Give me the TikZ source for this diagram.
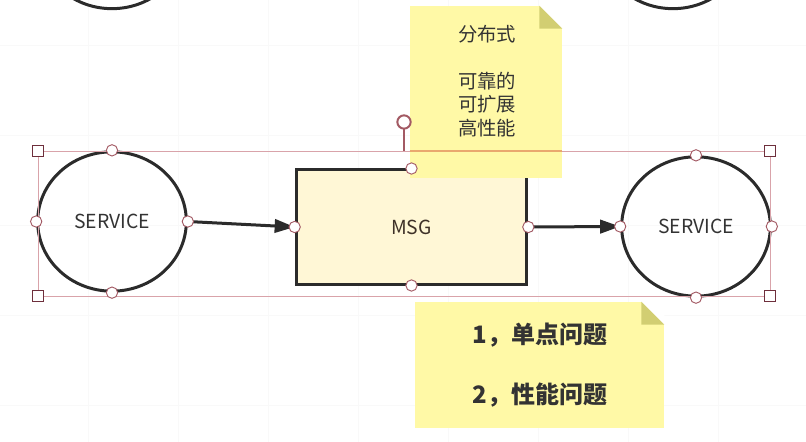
\documentclass[tikz,border=0pt]{standalone}
\usepackage{fontspec}
\setmainfont{Noto Sans CJK SC}
\usepackage{tikz}
\usetikzlibrary{shapes.geometric,arrows.meta}
\definecolor{ink}{HTML}{2B2B2B}
\definecolor{txt}{HTML}{333333}
\definecolor{msgtxt}{HTML}{3E3128}
\definecolor{note}{HTML}{FFF9A6}
\definecolor{fold}{HTML}{D2CE72}
\definecolor{msgfill}{HTML}{FFF7D6}
\definecolor{sel}{HTML}{D9A3AA}
\definecolor{selnote}{HTML}{E9A86E}
\definecolor{knob}{HTML}{A35A64}
\definecolor{corner}{HTML}{6E2F3C}
\definecolor{grid}{HTML}{F9F9F9}
\tikzset{
  svc/.style={ellipse, draw=ink, line width=2.25pt, minimum width=111.5pt, minimum height=104.5pt, inner sep=0pt, text=txt, font=\fontsize{14.5}{16}\selectfont},
  msgbox/.style={rectangle, draw=ink, fill=msgfill, line width=2.25pt, minimum width=173pt, minimum height=85.5pt, text=msgtxt, font=\fontsize{14.5}{16}\selectfont},
  sticky/.style={rectangle, fill=note, inner sep=0pt},
  notetxt/.style={text=txt, align=left, inner sep=0pt},
  flow/.style={draw=ink, line width=2.25pt, -{Triangle[length=15pt,width=10pt]}},
  knobc/.style={circle, draw=knob, fill=white, line width=0.7pt, inner sep=0pt, minimum size=8.5pt},
  cornerbox/.style={rectangle, draw=corner, fill=white, line width=0.7pt, inner sep=0pt, minimum size=8.5pt},
  selbox/.style={draw=sel, line width=0.7pt},
}
\begin{document}
\begin{tikzpicture}[x=0.75pt, y=-0.75pt]
  \useasboundingbox (0,0) rectangle (806,442);
  \clip (0,0) rectangle (806,442);
  % faint page grid
  \foreach \gx in {88,178,...,808} \draw[grid, line width=0.4pt] (\gx,0) -- (\gx,442);
  \foreach \gy in {45,135,...,405} \draw[grid, line width=0.4pt] (0,\gy) -- (806,\gy);

  % shapes cut by the top edge
  \node[svc] (topL) at (112,-61) {};
  \node[svc] (topR) at (673,-61) {};

  \node[svc] (svcL) at (112,221.5) {SERVICE};
  \node[svc] (svcR) at (696,226.5) {SERVICE};
  \node[msgbox] (msg) at (411.5,227) {MSG};

  \draw[flow] (svcL.east) -- (msg.west);
  \draw[flow] (msg.east) -- (svcR.west);

  % sticky notes
  \node[sticky, minimum width=114pt, minimum height=129pt] (noteA) at (486,92) {};
  \fill[white] (noteA.north east) -- ++(-23,0) -- ++(23,23) -- cycle;
  \fill[fold] (noteA.north east) ++(-23,0) -- ++(0,23) -- ++(23,0) -- cycle;
  \node[notetxt, font=\fontsize{14.5}{17.6}\selectfont] (listA) at (487,81)
    {分布式\\[17.6pt]可靠的\\可扩展\\高性能};

  \node[sticky, minimum width=186.75pt, minimum height=94.5pt] (noteB) at (539.5,365) {};
  \fill[white] (noteB.north east) -- ++(-23,0) -- ++(23,23) -- cycle;
  \fill[fold] (noteB.north east) ++(-23,0) -- ++(0,23) -- ++(23,0) -- cycle;
  \node[notetxt, font=\fontsize{18}{45}\selectfont\bfseries] (listB) at (540,365)
    {1，单点问题\\2，性能问题};

  % selection frame
  \coordinate (selNW) at (38,151);
  \coordinate (selSE) at (770,296);
  \coordinate (rot) at (404,122);
  \draw[selbox] (selNW) rectangle (selSE);
  \draw[selnote, line width=0.9pt] (noteA.west |- selNW) -- (noteA.east |- selNW);
  \draw[draw=knob, line width=1.1pt] (rot) ++(0,6.5) -- (404,151);
  \node[knobc, line width=1.5pt, minimum size=10pt] at (rot) {};
  \foreach \c in {selNW, selSE} \node[cornerbox] at (\c) {};
  \node[cornerbox] at (selNW -| selSE) {};
  \node[cornerbox] at (selSE -| selNW) {};

  % handles
  \foreach \n in {svcL, svcR, msg}
    \foreach \a in {north, south, east, west}
      \node[knobc] at (\n.\a) {};
\end{tikzpicture}
\end{document}
